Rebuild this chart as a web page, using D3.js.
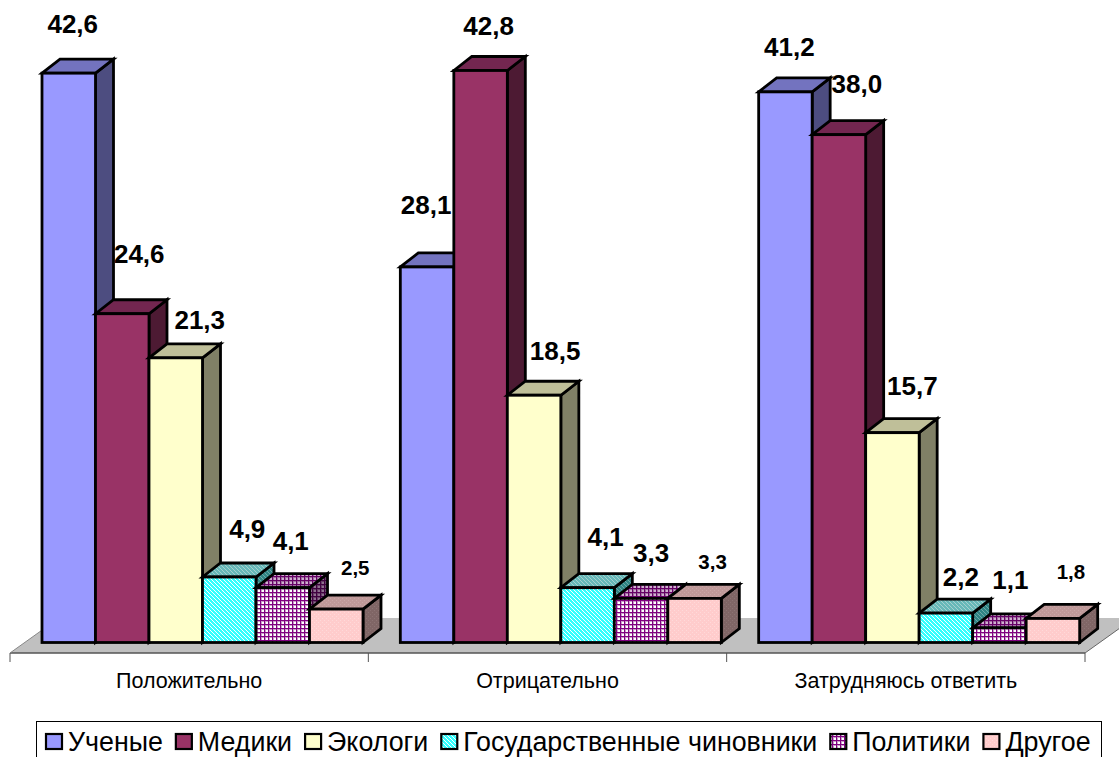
<!DOCTYPE html>
<html><head><meta charset="utf-8">
<script src="https://cdn.jsdelivr.net/npm/d3@7"></script>
<style>html,body{margin:0;padding:0;background:#fff;overflow:hidden}svg{display:block}text{font-family:"Liberation Sans",Arial,sans-serif;fill:#000}</style>
</head><body><svg id="c" width="1119" height="757"></svg>
<script>
const categories = ["Положительно","Отрицательно","Затрудняюсь ответить"];
const seriesNames = ["Ученые","Медики","Экологи","Государственные чиновники","Политики","Другое"];
const uchenye = [42.6,28.1,41.2];
const mediki = [24.6,42.8,38.0];
const ekologi = [21.3,18.5,15.7];
const chinovniki = [4.9,4.1,2.2];
const politiki = [4.1,3.3,1.1];
const drugoe = [2.5,3.3,1.8];
const seriesValues = [uchenye,mediki,ekologi,chinovniki,politiki,drugoe];

// hand-placed label offsets from the top-centre of each bar (per series, per category)
const labelDx = [[4,-1,4],[17,8,18],[24,21,20],[18,18,15],[8,10,11],[19,18,18]];
const labelDy = [[-47,-60,-43],[-58,-42,-49],[-36,-42,-45],[-46,-49,-34],[-45,-43,-46],[-40,-35,-45]];
const smallLabels = new Set(["5-0","5-1","5-2"]);
const faceColors = ["#9999ff","#993366","#ffffcc"];
const topColors = ["#7373bf","#732650","#bfbf99"];
const sideColors = ["#4d4d80","#4d1a33","#808066"];

const svg = d3.select("#c");
const defs = svg.append("defs");
function pat(id,size,bg,rects){
  const p = defs.append("pattern").attr("id",id).attr("width",size).attr("height",size).attr("patternUnits","userSpaceOnUse");
  p.append("rect").attr("width",size).attr("height",size).attr("fill",bg).attr("shape-rendering","crispEdges");
  rects.forEach(r=>p.append("rect").attr("x",r[0]).attr("y",r[1]).attr("width",r[2]).attr("height",r[3]).attr("fill",r[4]).attr("shape-rendering","crispEdges"));
}
const stripes = (id,bg,fg)=>pat(id,8,bg,[0,1,2,3,4,5,6,7].flatMap(i=>[[i,i,1,1,fg],[(i+4)%8,i,1,1,fg]]));
const grid = (id,bg,fg,mid)=>pat(id,4,bg,[[0,1,4,1,mid],[1,0,1,4,mid],[0,0,4,1,fg],[0,0,1,4,fg]]);
const dots = (id,bg,fg)=>pat(id,4,bg,[[0,0,1,1,fg],[2,2,1,1,fg]]);
stripes("cf","#33ffff","#ffffff"); stripes("ct","#66b8b8","#a8d0d0"); stripes("cs","#2f8585","#70a8a8");
grid("pf","#ffffff","#800080","#c8a0c8"); grid("pt","#d0b0d0","#660066","#a070a0"); grid("ps","#907090","#400040","#684068");
dots("rf","#ffcccc","#ffd9d9"); dots("rt","#bf9999","#c9a6a6"); dots("rs","#806666","#8c7373");
const fills = {
  face:[faceColors[0],faceColors[1],faceColors[2],"url(#cf)","url(#pf)","url(#rf)"],
  top:[topColors[0],topColors[1],topColors[2],"url(#ct)","url(#pt)","url(#rt)"],
  side:[sideColors[0],sideColors[1],sideColors[2],"url(#cs)","url(#ps)","url(#rs)"]
};

const x0 = d3.scaleBand().domain(categories).range([10,1085]);
const x1 = d3.scaleBand().domain(d3.range(6)).range([32,353]);
const y = d3.scaleLinear().domain([0,42.8]).range([642.5,70.5]);
const depthX = 18, depthY = 14;

// floor
svg.append("polygon").attr("points","10,653 1085,653 1134,618 59,618").attr("fill","#c0c0c0");
svg.append("line").attr("x1",10).attr("x2",1085).attr("y1",653).attr("y2",653).attr("stroke","#555").attr("stroke-width",1.6);
svg.append("line").attr("x1",10).attr("x2",59).attr("y1",653).attr("y2",618).attr("stroke","#888").attr("stroke-width",1);
svg.append("line").attr("x1",1085).attr("x2",1134).attr("y1",653).attr("y2",618).attr("stroke","#666").attr("stroke-width",1);

// axis
const axis = svg.append("g").attr("transform","translate(0,653)").call(d3.axisBottom(x0).tickSize(0).tickPadding(20));
axis.select(".domain").remove();
axis.selectAll("text").attr("font-size",21.5).attr("fill","#000");
axis.attr("font-size",21.5).attr("font-family",'"Liberation Sans",Arial,sans-serif');
svg.selectAll(".edgeTick").data([...categories.map(c=>x0(c)),x0.range()[1]]).join("line")
  .attr("x1",d=>d).attr("x2",d=>d).attr("y1",653).attr("y2",662).attr("stroke","#555").attr("stroke-width",1);

// bars
const sw = 2.8;
categories.forEach((cat,ci)=>{
  const g = svg.append("g").attr("stroke","#000").attr("stroke-width",sw).attr("stroke-linejoin","miter");
  seriesValues.forEach((vals,si)=>{
    const l = x0(cat)+x1(si), r = l+x1.bandwidth(), t = y(vals[ci]), b = y(0);
    const pts = a=>a.map(p=>p.join(",")).join(" ");
    g.append("polygon").attr("points",pts([[r,t],[r+depthX,t-depthY],[r+depthX,b-depthY],[r,b]])).attr("fill",fills.side[si]);
    g.append("polygon").attr("points",pts([[l,t],[l+depthX,t-depthY],[r+depthX,t-depthY],[r,t]])).attr("fill",fills.top[si]);
    g.append("rect").attr("x",l).attr("y",t).attr("width",r-l).attr("height",b-t).attr("fill",fills.face[si]);
  });
});

// value labels (drawn after all bars)
categories.forEach((cat,ci)=>{
  seriesValues.forEach((vals,si)=>{
    const cx = x0(cat)+x1(si)+x1.bandwidth()/2;
    const small = smallLabels.has(si+"-"+ci);
    svg.append("text").attr("x",cx+labelDx[si][ci]).attr("y",y(vals[ci])+labelDy[si][ci])
      .attr("text-anchor","middle").attr("dominant-baseline","middle")
      .attr("font-weight","bold").attr("font-size",small?20.5:26)
      .text(vals[ci].toFixed(1).replace(".",","));
  });
});

// legend
svg.append("rect").attr("x",36.5).attr("y",721.5).attr("width",1065).attr("height",50).attr("fill","#fff").attr("stroke","#000").attr("stroke-width",1);
let lx = 46;
seriesNames.forEach((n,i)=>{
  svg.append("rect").attr("x",lx).attr("y",734).attr("width",16).attr("height",15)
    .attr("fill",fills.face[i]).attr("stroke","#000").attr("stroke-width",2.2);
  const t = svg.append("text").attr("x",lx+22).attr("y",751).attr("font-size",26.8).text(n);
  lx += 22 + t.node().getComputedTextLength() + 13;
});
</script></body></html>
